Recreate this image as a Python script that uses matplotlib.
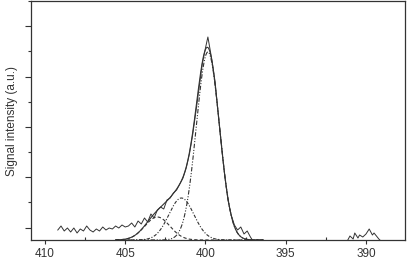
import numpy as np
import matplotlib
matplotlib.use("Agg")
import matplotlib.pyplot as plt
from matplotlib.ticker import MultipleLocator, FixedLocator

plt.rcParams['font.family'] = ['Liberation Sans', 'DejaVu Sans']

# Raw spectrum (binding energy, eV) and intensity (a.u.)
raw_energy = [409.2, 409.0, 408.8, 408.6, 408.4, 408.2, 408.0, 407.8, 407.6, 407.4,
              407.2, 407.0, 406.8, 406.6, 406.4, 406.2, 406.0, 405.8, 405.6, 405.4,
              405.2, 405.0, 404.8, 404.6, 404.4, 404.2, 404.0, 403.8, 403.6, 403.4,
              403.2, 403.0, 402.8, 402.6, 402.4, 402.2, 402.0, 401.8, 401.6, 401.4,
              401.2, 401.0, 400.8, 400.6, 400.4, 400.2, 400.0, 399.85, 399.6, 399.4,
              399.2, 399.0, 398.8, 398.6, 398.4, 398.2, 398.0, 397.8, 397.6, 397.4,
              397.2, 397.0, 396.0, 394.0, 392.0, 391.2, 391.0, 390.8, 390.7, 390.5,
              390.4, 390.2, 390.0, 389.8, 389.6, 389.5, 389.4, 389.2, 389.0, 388.0]
raw_signal = [10, 14, 9, 12, 8, 12, 7, 11, 9, 14,
              10, 8, 11, 9, 13, 10, 12, 11, 14, 12,
              15, 13, 14, 17, 13, 19, 16, 22, 18, 26,
              22, 30, 33, 31, 40, 42, 47, 50, 56, 62,
              72, 86, 105, 128, 152, 176, 192, 203, 180, 158,
              125, 93, 64, 40, 25, 15, 10, 13, 6, 9,
              3, -2, -3, -3, -3, -2, 4, 1, 7, 2,
              5, 3, 6, 11, 5, 7, 5, 1, -2, -3]

# Fitted Gaussian components: centre (eV), amplitude (a.u.), sigma (eV)
peak_centres = [399.85, 401.5, 403.0]
peak_amplitudes = [188, 42, 23]
peak_sigmas = [0.72, 0.78, 0.78]
peak_styles = [(0, (4, 1.5, 1, 1.5, 1, 1.5)), (0, (3, 1.5, 1, 1.5)), (0, (3, 2))]

xticks = [410, 405, 400, 395, 390]

fig = plt.figure(figsize=(4.08, 2.63), dpi=100)
ax = fig.add_axes([31/408, 1 - 240/263, (405 - 31)/408, (240 - 1)/263])

col = '#333333'
e = np.linspace(405.6, 396.4, 600)
comps = []
for c, a, s, ls in zip(peak_centres, peak_amplitudes, peak_sigmas, peak_styles):
    g = a * np.exp(-(e - c) ** 2 / (2 * s ** 2))
    comps.append(g)
    ax.plot(e, g, color=col, lw=0.8, linestyle=ls)
ax.plot(e, np.sum(comps, axis=0), color=col, lw=0.8)
ax.plot(raw_energy, raw_signal, color=col, lw=0.7)

ax.set_xlim(410.87, 387.57)
ax.set_ylim(0, 239)
ax.xaxis.set_major_locator(FixedLocator(xticks))
ax.xaxis.set_minor_locator(MultipleLocator(2.5))
ax.yaxis.set_major_locator(MultipleLocator(50.3, offset=12.5))
ax.yaxis.set_minor_locator(MultipleLocator(25.15, offset=12.5))
ax.set_yticklabels([])
ax.tick_params(axis='y', which='major', direction='out', length=4.5, width=0.8, color=col)
ax.tick_params(axis='y', which='minor', direction='out', length=2.5, width=0.8, color=col)
ax.tick_params(axis='x', which='major', direction='out', length=3, width=0.8, color=col,
               labelsize=8.5, labelcolor=col, pad=2.5)
ax.tick_params(axis='x', which='minor', direction='in', length=2, width=0.8, color=col)
for sp in ax.spines.values():
    sp.set_linewidth(0.9)
    sp.set_color(col)
ax.set_ylabel('Signal intensity (a.u.)', fontsize=8.5, color=col, labelpad=1)

fig.savefig('out.png', dpi=100)
